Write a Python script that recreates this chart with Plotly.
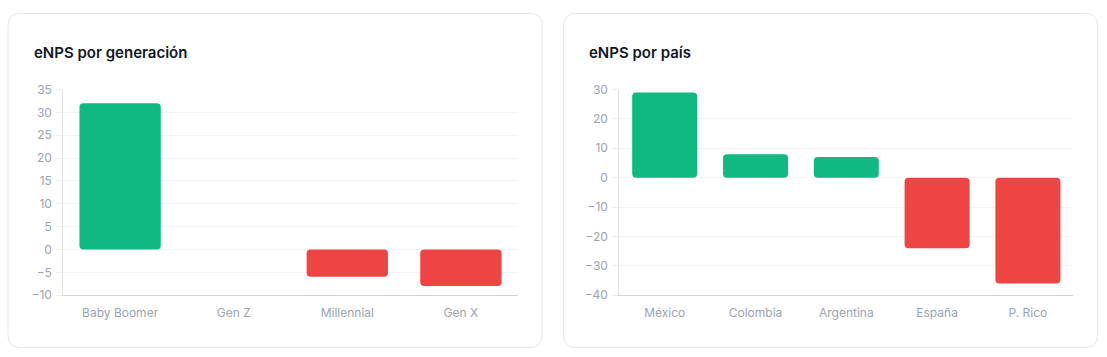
import plotly.graph_objects as go

# ---- data ----
gen_categories = ["Baby Boomer", "Gen Z", "Millennial", "Gen X"]
gen_values = [32, 0, -6, -8]
country_categories = ["México", "Colombia", "Argentina", "España", "P. Rico"]
country_values = [29, 8, 7, -24, -36]
gen_ticks = [-10, -5, 0, 5, 10, 15, 20, 25, 30, 35]
country_ticks = [-40, -30, -20, -10, 0, 10, 20, 30]

W = 1107
# effective drawing frame observed in the renderer
TOP_OFF, H_EFF = 8, 341
GREEN = "#10b981"
RED = "#ef4444"


def px_x(x):
    return x / W


def px_y(y):
    return 1 - (y - TOP_OFF) / H_EFF


def colors(vals):
    return [GREEN if v >= 0 else RED for v in vals]


fig = go.Figure()


def add_bars(cats, vals, xa, ya):
    # a (near-zero) explicit base makes Plotly round both ends of each bar
    eps = [1e-6 if v >= 0 else -1e-6 for v in vals]
    fig.add_trace(go.Bar(x=cats, y=[v - e for v, e in zip(vals, eps)], base=eps,
                         marker=dict(color=colors(vals), cornerradius=4, line=dict(width=0)),
                         width=0.716, xaxis=xa, yaxis=ya, showlegend=False, hoverinfo="skip"))


add_bars(gen_categories, gen_values, "x", "y")
add_bars(country_categories, country_values, "x2", "y2")

tickfont = dict(family="Inter, Roboto, sans-serif", size=12, color="#9ca3af")
common_x = dict(showgrid=False, showline=True, linecolor="#d4d4d8", linewidth=1, ticks="",
                tickfont=tickfont, fixedrange=True, ticklabelstandoff=6)
common_y = dict(showgrid=True, gridcolor="#f4f4f5", gridwidth=1, showline=True, linecolor="#e4e4e7",
                linewidth=1, ticks="outside", ticklen=6, tickcolor="#eeeef0", zeroline=False,
                tickfont=tickfont, fixedrange=True, ticklabelstandoff=2)

y_dom = [px_y(294.3), px_y(89.3)]

fig.update_layout(
    autosize=True,
    margin=dict(l=0, r=0, t=0, b=0),
    paper_bgcolor="white", plot_bgcolor="white",
    barmode="overlay",
    xaxis=dict(domain=[px_x(63.3), px_x(517.7)], anchor="y", **common_x),
    yaxis=dict(domain=y_dom, anchor="x", range=[-10, 35], tickvals=gen_ticks, **common_y),
    xaxis2=dict(domain=[px_x(619.3), px_x(1073.3)], anchor="y2", **common_x),
    yaxis2=dict(domain=y_dom, anchor="x2", range=[-40, 30], tickvals=country_ticks, **common_y),
)


def card(x0, y0, x1, y1, r=12):
    X = lambda v: px_x(v)
    Y = lambda v: px_y(v)
    path = (f"M {X(x0 + r)},{Y(y0)} L {X(x1 - r)},{Y(y0)} Q {X(x1)},{Y(y0)} {X(x1)},{Y(y0 + r)} "
            f"L {X(x1)},{Y(y1 - r)} Q {X(x1)},{Y(y1)} {X(x1 - r)},{Y(y1)} "
            f"L {X(x0 + r)},{Y(y1)} Q {X(x0)},{Y(y1)} {X(x0)},{Y(y1 - r)} "
            f"L {X(x0)},{Y(y0 + r)} Q {X(x0)},{Y(y0)} {X(x0 + r)},{Y(y0)} Z")
    return dict(type="path", path=path, xref="paper", yref="paper",
                line=dict(color="#e5e7eb", width=1), fillcolor="rgba(0,0,0,0)", layer="below")


fig.update_layout(shapes=[card(8, 13.5, 542, 346.5), card(563.7, 13.5, 1097.5, 346.5)])

title_font = dict(family="Inter, Roboto, sans-serif", size=15, color="#111827", weight=600)
fig.add_annotation(text="eNPS por generación", x=px_x(32), y=px_y(52), xref="paper", yref="paper",
                   xanchor="left", yanchor="middle", showarrow=False, font=title_font)
fig.add_annotation(text="eNPS por país", x=px_x(587), y=px_y(52), xref="paper", yref="paper",
                   xanchor="left", yanchor="middle", showarrow=False, font=title_font)

fig.write_html(
    "out.html",
    config={"displayModeBar": False},
    default_width="100vw",
    default_height="100vh",
    post_script=(
        "document.documentElement.style.margin='0';"
        "document.body.style.margin='0';"
        "document.body.style.overflow='hidden';"
        "window.dispatchEvent(new Event('resize'));"
    ),
)
